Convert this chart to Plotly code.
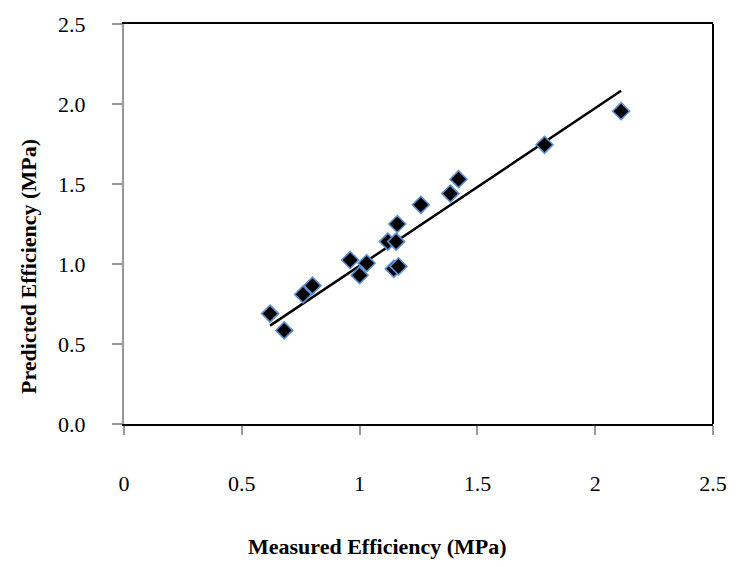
import numpy as np
import plotly.graph_objects as go

measured = [0.62, 0.68, 0.76, 0.80, 0.96, 1.03, 1.00, 1.12, 1.155, 1.16, 1.145, 1.165, 1.26, 1.385, 1.42, 1.785, 2.11]
predicted = [0.69, 0.585, 0.81, 0.865, 1.025, 1.005, 0.93, 1.14, 1.14, 1.25, 0.97, 0.985, 1.37, 1.44, 1.53, 1.745, 1.955]
trend_slope = 0.985
trend_intercept = 0.004

x_ticks = [0, 0.5, 1, 1.5, 2, 2.5]
x_tick_labels = ["0", "0.5", "1", "1.5", "2", "2.5"]
y_ticks = [0.0, 0.5, 1.0, 1.5, 2.0, 2.5]
y_tick_labels = ["0.0", "0.5", "1.0", "1.5", "2.0", "2.5"]

tx = np.array([min(measured), max(measured)])
ty = trend_slope * tx + trend_intercept

fig = go.Figure()
fig.add_trace(go.Scatter(x=tx, y=ty, mode="lines",
                         line=dict(color="black", width=2.5), showlegend=False))
fig.add_trace(go.Scatter(x=measured, y=predicted, mode="markers",
                         marker=dict(symbol="diamond", size=13, color="black",
                                     line=dict(color="#5b8fd0", width=1.6)),
                         showlegend=False))

font_fam = "Liberation Serif, Times New Roman, serif"
fig.update_layout(
    width=739, height=567,
    margin=dict(l=124, r=20, t=22, b=143),
    paper_bgcolor="white", plot_bgcolor="white",
    font=dict(family=font_fam, size=22, color="black"),
    xaxis=dict(range=[0, 2.5], tickvals=x_ticks, ticktext=x_tick_labels,
               showgrid=False, zeroline=False, showline=True, linecolor="black",
               linewidth=2, mirror=True, ticks="outside", ticklen=9, tickcolor="#999999",
               tickwidth=1.5, ticklabelstandoff=30),
    yaxis=dict(range=[0, 2.5], tickvals=y_ticks, ticktext=y_tick_labels,
               showgrid=False, zeroline=False, showline=True, linecolor="#999999",
               linewidth=2, mirror=False, ticks="outside", ticklen=10, tickcolor="#999999",
               tickwidth=1.5, ticklabelstandoff=22),
    shapes=[dict(type="line", xref="paper", yref="paper", x0=1, x1=1, y0=0, y1=1,
                 line=dict(color="black", width=2))],
    annotations=[
        dict(text="<b>Measured Efficiency (MPa)</b>", xref="paper", yref="paper",
             x=0.43, y=-0.305, xanchor="center", yanchor="middle", showarrow=False,
             font=dict(size=22)),
        dict(text="<b>Predicted Efficiency (MPa)</b>", xref="paper", yref="paper",
             x=-0.163, y=0.395, xanchor="center", yanchor="middle", showarrow=False,
             textangle=-90, font=dict(size=22)),
    ],
)
fig.write_html("out.html")
